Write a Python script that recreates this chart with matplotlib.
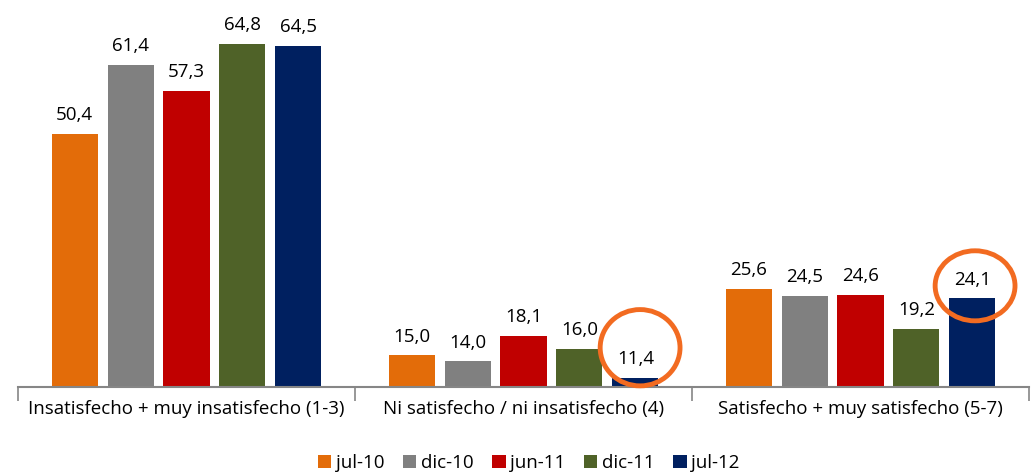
import matplotlib.pyplot as plt
import numpy as np
from matplotlib.patches import Ellipse

categories = [
    "Insatisfecho + muy insatisfecho (1-3)",
    "Ni satisfecho / ni insatisfecho (4)",
    "Satisfecho + muy satisfecho (5-7)",
]
series = ["jul-10", "dic-10", "jun-11", "dic-11", "jul-12"]
jul10 = [50.4, 15.0, 25.6]
dic10 = [61.4, 14.0, 24.5]
jun11 = [57.3, 18.1, 24.6]
dic11 = [64.8, 16.0, 19.2]
jul12 = [64.5, 11.4, 24.1]
values = [jul10, dic10, jun11, dic11, jul12]
colors = ["#E36C09", "#808080", "#C00000", "#4F6228", "#002060"]

# bars to highlight with a circle: (series index, category index)
highlights = [(4, 1), (4, 2)]

plt.rcParams["font.family"] = ["Open Sans", "DejaVu Sans"]

fig = plt.figure(figsize=(10.31, 4.75), dpi=100)
ax = fig.add_axes([18 / 1031, 88.5 / 475, 1011 / 1031, 386.5 / 475])

x = np.arange(len(categories))
width = 0.1365
step = 0.166

bars_by_series = []
for i, (name, vals, col) in enumerate(zip(series, values, colors)):
    pos = x + (i - 2) * step
    bars = ax.bar(pos, vals, width=width, color=col, label=name, zorder=2)
    bars_by_series.append(bars)
    for p, v in zip(pos, vals):
        ax.annotate(
            f"{v:.1f}".replace(".", ","),
            (p, v),
            xytext=(0, 7),
            textcoords="offset points",
            ha="center",
            va="bottom",
            fontsize=13.5,
            color="black",
        )

for (s, c), (dx, dy, w, h) in zip(highlights, [(0.014, 4.8, 0.237, 12.2), (0.008, 2.0, 0.237, 11.2)]):
    px = x[c] + (s - 2) * step + dx
    py = values[s][c] + dy
    ax.add_patch(
        Ellipse((px, py), w, h, fill=False, edgecolor="#F26B21", lw=3.5,
                zorder=5, clip_on=False)
    )

ax.set_xlim(-0.5, 2.5)
ax.set_ylim(10, 71.8)
ax.set_yticks([])
for sp in ["top", "right", "left"]:
    ax.spines[sp].set_visible(False)
ax.spines["bottom"].set_color("#868686")
ax.spines["bottom"].set_linewidth(1.5)

ax.set_xticks(x)
ax.set_xticklabels(categories, fontsize=13.5)
ax.tick_params(axis="x", length=0, pad=10)
ax.set_xticks([-0.5, 0.5, 1.5, 2.5], minor=True)
ax.tick_params(axis="x", which="minor", length=10, width=1.2, color="#868686")

fig.legend(
    handles=[b[0] for b in bars_by_series],
    labels=series,
    loc="center",
    bbox_to_anchor=(0.513, 0.025),
    ncol=5,
    frameon=False,
    fontsize=13.5,
    handlelength=0.7,
    handleheight=0.7,
    handletextpad=0.25,
    columnspacing=1.0,
)

fig.savefig("out.png", dpi=100)
